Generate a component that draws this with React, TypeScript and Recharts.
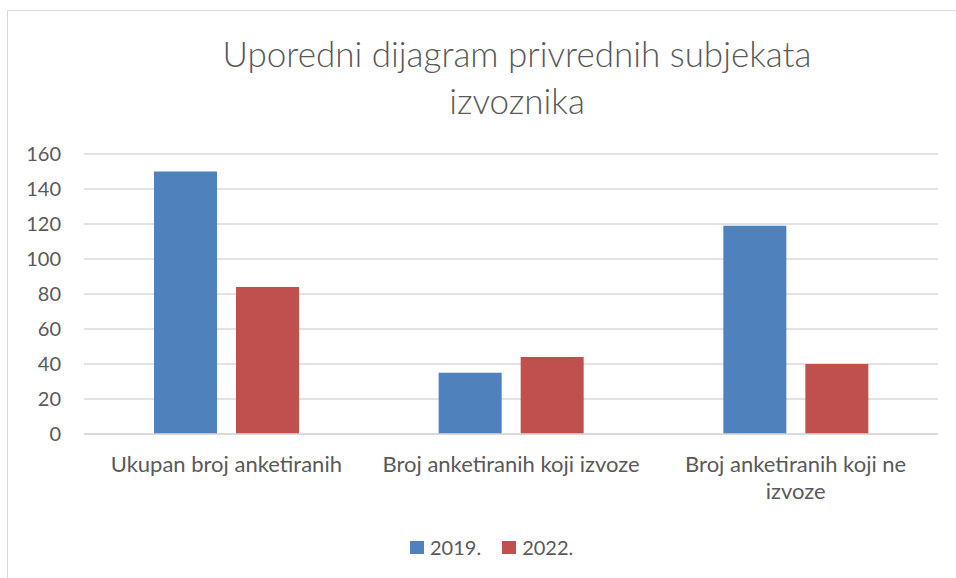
import { BarChart, Bar, XAxis, YAxis, CartesianGrid } from "recharts";

const CATEGORIES = ["Ukupan broj anketiranih", "Broj anketiranih koji izvoze", "Broj anketiranih koji ne izvoze"];
const VALUES_2019 = [150, 35, 119];
const VALUES_2022 = [84, 44, 40];
const Y_TICKS = [0, 20, 40, 60, 80, 100, 120, 140, 160];
const TITLE_LINES = ["Uporedni dijagram privrednih subjekata", "izvoznika"];
const SERIES = [
  { key: "y2019", label: "2019.", color: "#4f81bd" },
  { key: "y2022", label: "2022.", color: "#c0504d" },
];

const FONT = "Lato, 'Open Sans', sans-serif";
const TEXT_COLOR = "#595959";
const GRID_COLOR = "#d9d9d9";
const LABEL_SIZE = 22;
const LABEL_WRAP = 272;

const data = CATEGORIES.map((name, i) => ({
  name,
  y2019: VALUES_2019[i],
  y2022: VALUES_2022[i],
}));

// greedy word wrap, measured with a canvas so it uses the real font
const wrapLabel = (text: string): string[] => {
  const ctx = document.createElement("canvas").getContext("2d");
  if (!ctx) return [text];
  ctx.font = `${LABEL_SIZE}px ${FONT}`;
  const lines: string[] = [];
  let current = "";
  text.split(" ").forEach((word) => {
    const next = current ? `${current} ${word}` : word;
    if (current && ctx.measureText(next).width > LABEL_WRAP) {
      lines.push(current);
      current = word;
    } else {
      current = next;
    }
  });
  if (current) lines.push(current);
  return lines;
};

const CategoryTick = ({ x, y, payload }: any) => (
  <text x={x} y={y} textAnchor="middle" fontSize={LABEL_SIZE} fontFamily={FONT} fill={TEXT_COLOR}>
    {wrapLabel(payload.value).map((line, i) => (
      <tspan key={i} x={x} dy={i === 0 ? 16 : 27}>
        {line}
      </tspan>
    ))}
  </text>
);

export default function App() {
  return (
    <div style={{ position: "fixed", left: 0, top: 0, width: 956, height: 578, overflow: "hidden", background: "#fff" }}>
      <div
        style={{
          position: "absolute",
          left: 7,
          top: 10,
          width: 1000,
          height: 600,
          borderLeft: `1.5px solid ${GRID_COLOR}`,
          borderTop: `1.5px solid ${GRID_COLOR}`,
        }}
      />
      <div
        style={{
          position: "absolute",
          left: 0,
          top: 30,
          width: 1034,
          textAlign: "center",
          fontFamily: FONT,
          fontWeight: 300,
          fontSize: 35,
          lineHeight: "47px",
          color: TEXT_COLOR,
        }}
      >
        {TITLE_LINES.map((line) => (
          <div key={line}>{line}</div>
        ))}
      </div>
      <div style={{ position: "absolute", left: 0, top: 0 }}>
        <BarChart
          width={956}
          height={578}
          data={data}
          margin={{ top: 154, right: 18, bottom: 114, left: 0 }}
          barCategoryGap={70}
          barGap={19}
        >
          <CartesianGrid vertical={false} stroke={GRID_COLOR} strokeWidth={1.5} />
          <XAxis
            dataKey="name"
            height={30}
            axisLine={{ stroke: GRID_COLOR, strokeWidth: 1.5 }}
            tickLine={false}
            tickSize={0}
            tickMargin={22}
            tick={<CategoryTick />}
            interval={0}
          />
          <YAxis
            domain={[0, 160]}
            ticks={Y_TICKS}
            width={84}
            axisLine={false}
            tickLine={false}
            tickSize={0}
            tickMargin={23}
            tick={{ fontSize: 20, fontFamily: FONT, fill: TEXT_COLOR }}
          />
          {SERIES.map((s) => (
            <Bar key={s.key} dataKey={s.key} name={s.label} fill={s.color} isAnimationActive={false} />
          ))}
        </BarChart>
      </div>
      <div
        style={{
          position: "absolute",
          left: 410,
          top: 534,
          display: "flex",
          fontFamily: FONT,
          fontSize: 20,
          lineHeight: "27px",
          color: TEXT_COLOR,
        }}
      >
        {SERIES.map((s) => (
          <span key={s.key} style={{ display: "flex", alignItems: "center", marginRight: 21 }}>
            <span style={{ width: 14, height: 13, background: s.color, marginRight: 6, display: "inline-block" }} />
            {s.label}
          </span>
        ))}
      </div>
    </div>
  );
}
